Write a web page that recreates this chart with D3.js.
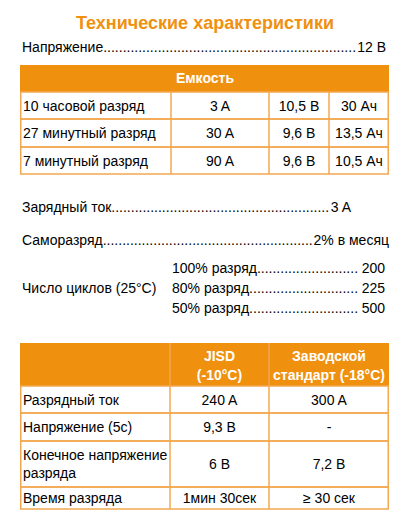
<!DOCTYPE html>
<html><head><meta charset="utf-8">
<script src="https://cdn.jsdelivr.net/npm/d3@7"></script>
<style>body{margin:0;background:#fff}text{font-family:"Liberation Sans",Arial,sans-serif}</style>
</head><body><svg id="c" width="407" height="528"></svg>
<script>
var orange="#F0900F", border="#F2A850";
var capHeader="Емкость";
var capRows=[["10 часовой разряд","3 A","10,5 В","30 Ач"],["27 минутный разряд","30 A","9,6 В","13,5 Ач"],["7 минутный разряд","90 A","9,6 В","10,5 Ач"]];
var capCols=[20,171,269,329,389];
var capY=[65,92,119,147,174];
var coldHeader=[["",""],["JISD","(-10°C)"],["Заводской","стандарт (-18°C)"]];
var coldRows=[[["Разрядный ток"],"240 A","300 A"],[["Напряжение (5с)"],"9,3 В","-"],[["Конечное напряжение","разряда"],"6 В","7,2 В"],[["Время разряда"],"1мин 30сек","≥ 30 сек"]];
var coldCols=[20,170,269,389];
var coldY=[343,386,413,441,487,509];
var dotted=[["Напряжение","12 В",22,386,52],["Зарядный ток","3 A",22,351,212],["Саморазряд","2% в месяц",22,389,245]];
var cycles=[["100% разряд.... ","200",273],["80% разряд.","225",293],["50% разряд.","500",313]];

var svg=d3.select("#c");
svg.append("text").attr("x",205).attr("y",29).attr("text-anchor","middle").attr("font-size",18).attr("font-weight","bold").attr("fill",orange).text("Технические характеристики");

function leader(l,v,x0,x1,y){
  var t1=svg.append("text").attr("x",x0).attr("y",y).attr("font-size",14).text(l);
  var t2=svg.append("text").attr("x",x1).attr("y",y).attr("font-size",14).attr("text-anchor","end").text(v);
  var a=x0+t1.node().getComputedTextLength(), b=x1-t2.node().getComputedTextLength();
  var d=svg.append("text").attr("x",a).attr("y",y).attr("font-size",14).text(".");
  var w=d.node().getComputedTextLength(), n=Math.max(0,Math.floor((b-a)/w));
  d.text(".".repeat(n));
}
dotted.forEach(function(r){leader(r[0],r[1],r[2],r[3],r[4]);});
svg.append("text").attr("x",22).attr("y",293).attr("font-size",14).text("Число циклов (25°C)");
cycles.forEach(function(r){leader(r[0],r[1],172,385,r[2]);});

function table(cols,ys,multi){
  var g=svg.append("g");
  g.append("rect").attr("x",cols[0]).attr("y",ys[0]).attr("width",cols[cols.length-1]-cols[0]).attr("height",ys[1]-ys[0]).attr("fill",orange);
  for(var i=1;i<ys.length-1;i++){
    g.append("rect").attr("x",cols[0]+0.75).attr("y",ys[i]).attr("width",cols[cols.length-1]-cols[0]-1.5).attr("height",ys[i+1]-ys[i]).attr("fill","none").attr("stroke",border).attr("stroke-width",1.5);
  }
  cols.slice(1,-1).forEach(function(c){g.append("line").attr("x1",c).attr("x2",c).attr("y1",multi?ys[0]:ys[1]).attr("y2",ys[ys.length-1]).attr("stroke",border).attr("stroke-width",1.5);});
  return g;
}
var g1=table(capCols,capY,false);
g1.append("text").attr("x",205).attr("y",83).attr("text-anchor","middle").attr("fill","#fff").attr("font-weight","bold").attr("font-size",14).text(capHeader);
capRows.forEach(function(r,i){
  var y=(capY[i+1]+capY[i+2])/2+5;
  r.forEach(function(v,j){
    g1.append("text").attr("x",j==0?capCols[0]+3:(capCols[j]+capCols[j+1])/2).attr("y",y).attr("text-anchor",j==0?"start":"middle").attr("font-size",14).text(v);
  });
});
var g2=table(coldCols,coldY,true);
coldHeader.forEach(function(h,j){
  if(j==0)return;
  h.forEach(function(s,k){g2.append("text").attr("x",(coldCols[j]+coldCols[j+1])/2).attr("y",coldY[0]+18+k*19).attr("text-anchor","middle").attr("fill","#fff").attr("font-weight","bold").attr("font-size",14).text(s);});
});
coldRows.forEach(function(r,i){
  var y0=coldY[i+1],y1=coldY[i+2],m=(y0+y1)/2;
  r[0].forEach(function(s,k){g2.append("text").attr("x",coldCols[0]+3).attr("y",m+5+(k-(r[0].length-1)/2)*18).attr("font-size",14).text(s);});
  [r[1],r[2]].forEach(function(v,j){g2.append("text").attr("x",(coldCols[j+1]+coldCols[j+2])/2).attr("y",m+5).attr("text-anchor","middle").attr("font-size",14).text(v);});
});
</script></body></html>
